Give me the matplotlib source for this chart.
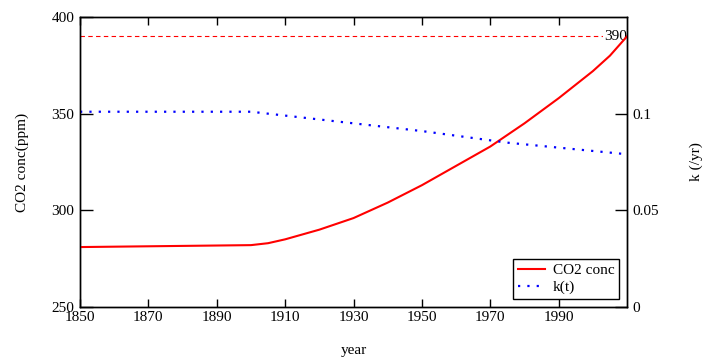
import matplotlib.pyplot as plt

# CO2 concentration (ppm)
years = [1850, 1900, 1905, 1910, 1915, 1920, 1925, 1930, 1935, 1940, 1945, 1950,
         1955, 1960, 1965, 1970, 1975, 1980, 1985, 1990, 1995, 2000, 2005, 2010]
co2 = [281, 282, 283, 285, 287.5, 290, 293, 296, 300, 304, 308.5, 313,
       318, 323, 328, 333, 339, 345, 351.5, 358, 365, 372, 380, 390]

# uptake rate k(t) (/yr)
k_years = [1850, 1900, 1925, 1950, 1975, 2010]
k_vals = [0.101, 0.101, 0.096, 0.091, 0.085, 0.079]

ref_level = 390
xticks = [1850, 1870, 1890, 1910, 1930, 1950, 1970, 1990]
left_ticks = [250, 300, 350, 400]
right_ticks = [0, 0.05, 0.1]
right_ticklabels = ['0', '0.05', '0.1']

plt.rcParams['font.family'] = ['Liberation Serif', 'DejaVu Serif']
plt.rcParams['font.size'] = 11


def main():
    fig = plt.figure(figsize=(7.07, 3.61), dpi=100)
    ax = fig.add_axes([0.1132, 0.1496, 0.7737, 0.8033])
    ax2 = ax.twinx()

    ax.axhline(ref_level, color='red', lw=0.8, ls=(0, (4, 3)), zorder=1)
    ax.text(2010, ref_level, str(ref_level), ha='right', va='center', zorder=1.5,
            bbox=dict(facecolor='white', edgecolor='none', pad=0.5))

    l1, = ax.plot(years, co2, color='red', lw=1.5, label='CO2 conc', zorder=3)
    l2, = ax2.plot(k_years, k_vals, color='blue', lw=1.6, ls=(0, (1, 3.2)), label='k(t)')

    ax.set_xlim(1850, 2010)
    ax.set_ylim(250, 400)
    ax2.set_ylim(0, 0.15)

    ax.set_xticks(xticks)
    ax.set_yticks(left_ticks)
    ax2.set_yticks(right_ticks)
    ax2.set_yticklabels(right_ticklabels)

    ax.tick_params(axis='y', direction='in', length=9, width=1, pad=4)
    ax.tick_params(axis='x', direction='in', length=6, width=1, pad=3, top=True)
    ax2.tick_params(axis='y', direction='in', length=9, width=1, pad=4)

    for a in (ax, ax2):
        for s in a.spines.values():
            s.set_linewidth(1)

    ax.set_xlabel('year', labelpad=14)
    ax.set_ylabel('CO2 conc(ppm)', labelpad=16)
    ax2.set_ylabel('k (/yr)', labelpad=22)

    leg = ax2.legend(handles=[l1, l2], loc='lower right',
                     bbox_to_anchor=(0.9854, 0.0276), borderaxespad=0,
                     fancybox=False, framealpha=1, edgecolor='black',
                     handlelength=1.8, handletextpad=0.5, borderpad=0.3,
                     labelspacing=0.2)
    leg.get_frame().set_linewidth(1)

    fig.savefig('out.png', dpi=100)


if __name__ == "__main__":
    main()
